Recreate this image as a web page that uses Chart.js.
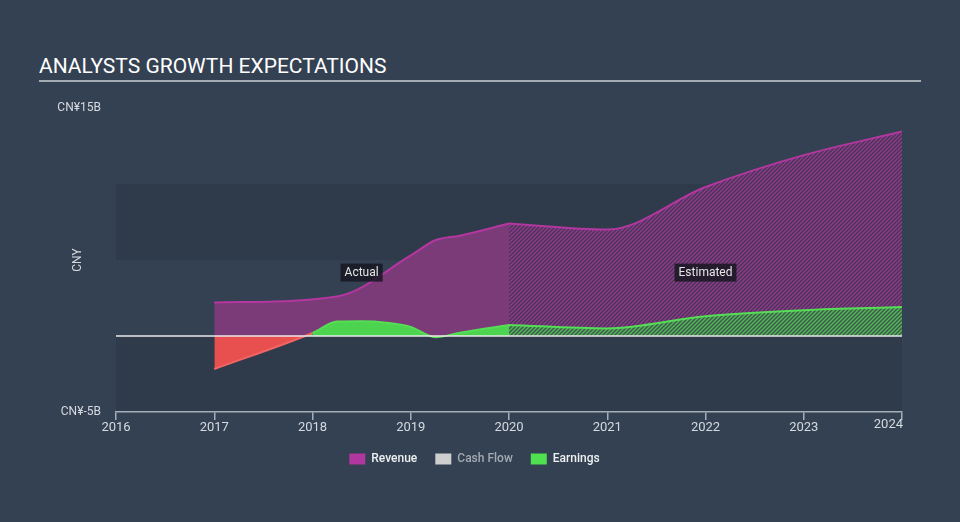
<!DOCTYPE html>
<html>
<head>
<meta charset="utf-8">
<script src="https://cdn.jsdelivr.net/npm/chart.js@4.4.1/dist/chart.umd.min.js"></script>
<style>
  html, body { margin: 0; padding: 0; background: #344152; }
  #wrap { position: relative; width: 960px; height: 522px; }
  #title {
    position: absolute; left: 39px; top: 54px; width: 882px;
    color: #ffffff; font: 21px Roboto, sans-serif;
    padding-bottom: 2px; border-bottom: 2px solid #a3abb3;
  }
  canvas { position: absolute; left: 0; top: 0; }
</style>
</head>
<body>
<div id="wrap">
  <div id="title">ANALYSTS GROWTH EXPECTATIONS</div>
  <canvas id="myChart" width="960" height="522"></canvas>
</div>
<script>
// values in CN¥ billions
const revenueActualYears = [2017.0, 2018.25, 2019.0, 2019.25, 2019.5, 2020.0];
const revenueActual = [2.2, 2.6, 5.3, 6.3, 6.6, 7.4];
const earningsActualYears = [2017.0, 2018.0, 2018.25, 2018.5, 2018.75, 2019.0, 2019.25, 2019.5, 2020.0];
const earningsActual = [-2.17, 0.2, 0.95, 0.97, 0.88, 0.6, -0.08, 0.22, 0.73];
const estimateYears = [2020.0, 2021.0, 2022.0, 2023.0, 2024.0];
const revenueEstimate = [7.4, 7.0, 9.8, 11.9, 13.45];
const earningsEstimate = [0.73, 0.5, 1.3, 1.7, 1.9];
const xTickYears = [2016, 2017, 2018, 2019, 2020, 2021, 2022, 2023, 2024];
const yTickLabels = { '15': 'CN¥15B', '-5': 'CN¥-5B' };
const legendNames = ['Revenue', 'Cash Flow', 'Earnings'];

const pts = (xs, ys) => xs.map((x, i) => ({ x: x, y: ys[i] }));

function hatch(bg, stripe) {
  const c = document.createElement('canvas');
  c.width = 4; c.height = 4;
  const g = c.getContext('2d');
  g.fillStyle = bg;
  g.fillRect(0, 0, 4, 4);
  g.strokeStyle = stripe;
  g.lineWidth = 1.4;
  g.beginPath();
  g.moveTo(0, 4); g.lineTo(4, 0);
  g.moveTo(-1, 1); g.lineTo(1, -1);
  g.moveTo(3, 5); g.lineTo(5, 3);
  g.stroke();
  return g.createPattern(c, 'repeat');
}

const ctx = document.getElementById('myChart').getContext('2d');
const revHatch = hatch('#4a3355', '#8e3d8e');
const earnHatch = hatch('#3b5a4c', '#57b85a');

const bandsPlugin = {
  id: 'bands',
  beforeDraw(chart) {
    const { ctx, chartArea: a, scales: { y } } = chart;
    ctx.save();
    ctx.fillStyle = '#2f3b4a';
    [[10, 5], [0, -5]].forEach(b => {
      const t = y.getPixelForValue(b[0]), btm = y.getPixelForValue(b[1]);
      ctx.fillRect(a.left, t, a.right - a.left, btm - t);
    });
    ctx.restore();
  },
  afterDatasetsDraw(chart) {
    const { ctx, chartArea: a, scales: { x, y } } = chart;
    ctx.save();
    // zero line
    const y0 = y.getPixelForValue(0);
    ctx.strokeStyle = '#e8e8e8';
    ctx.lineWidth = 1.5;
    ctx.beginPath();
    ctx.moveTo(a.left, y0); ctx.lineTo(a.right, y0);
    ctx.stroke();
    // Actual / Estimated tags
    ctx.font = '12px Roboto';
    ctx.textAlign = 'center';
    ctx.textBaseline = 'middle';
    [['Actual', 2018.5], ['Estimated', 2022.0]].forEach(t => {
      const cx = x.getPixelForValue(t[1]), cy = y.getPixelForValue(4.17);
      const w = ctx.measureText(t[0]).width + 8;
      ctx.fillStyle = 'rgba(24,24,34,0.85)';
      ctx.fillRect(cx - w / 2, cy - 9, w, 18);
      ctx.fillStyle = '#e6e6e6';
      ctx.fillText(t[0], cx, cy + 0.5);
    });
    // last x label, kept inside the axis
    ctx.font = '13px Roboto';
    ctx.fillStyle = '#d5dae0';
    ctx.textAlign = 'right';
    ctx.fillText(String(xTickYears[xTickYears.length - 1]), a.right + 1, 425);
    ctx.restore();
  }
};

Chart.defaults.font.family = 'Roboto';

new Chart(ctx, {
  type: 'line',
  data: {
    datasets: [
      {
        label: 'Earnings',
        data: pts(earningsActualYears, earningsActual),
        borderColor: '#55dd55',
        borderWidth: 2,
        segment: {
          borderColor: c => (c.p0.parsed.y + c.p1.parsed.y) / 2 < 0 ? '#f26464' : '#55dd55'
        },
        fill: { target: 'origin', above: '#4cd34f', below: '#e85050' }
      },
      {
        label: 'Earnings estimate',
        data: pts(estimateYears, earningsEstimate),
        borderColor: '#55dd55',
        borderWidth: 2,
        fill: { target: 'origin', above: earnHatch, below: '#e85050' }
      },
      {
        label: 'Revenue',
        data: pts(revenueActualYears, revenueActual),
        borderColor: '#b3379f',
        borderWidth: 2,
        backgroundColor: '#7b3a78',
        fill: 'origin'
      },
      {
        label: 'Revenue estimate',
        data: pts(estimateYears, revenueEstimate),
        borderColor: '#b3379f',
        borderWidth: 2,
        backgroundColor: revHatch,
        fill: 'origin'
      },
      {
        label: 'Cash Flow',
        data: [],
        borderColor: '#cfcfcf'
      }
    ]
  },
  options: {
    responsive: false,
    animation: false,
    devicePixelRatio: 1,
    elements: {
      point: { radius: 0, hoverRadius: 0 },
      line: { cubicInterpolationMode: 'monotone' }
    },
    layout: { padding: { top: 108, right: 58, left: 47, bottom: 47 } },
    plugins: {
      tooltip: { enabled: false },
      legend: {
        position: 'bottom',
        onClick: null,
        labels: {
          boxWidth: 16,
          boxHeight: 11,
          padding: 18,
          font: { size: 12, weight: '500' },
          generateLabels: () => [
            { text: legendNames[0], fillStyle: '#b0379e', strokeStyle: '#b0379e', lineWidth: 0, fontColor: '#eef0f2', hidden: false },
            { text: legendNames[1], fillStyle: '#cfcfcf', strokeStyle: '#cfcfcf', lineWidth: 0, fontColor: '#a3aab3', hidden: false },
            { text: legendNames[2], fillStyle: '#4fe050', strokeStyle: '#4fe050', lineWidth: 0, fontColor: '#eef0f2', hidden: false }
          ]
        }
      }
    },
    scales: {
      x: {
        type: 'linear',
        min: xTickYears[0],
        max: xTickYears[xTickYears.length - 1],
        afterBuildTicks: s => { s.ticks = xTickYears.map(v => ({ value: v })); },
        afterFit: s => { s.height = 23; },
        ticks: {
          autoSkip: false,
          maxRotation: 0,
          padding: 0,
          color: '#d5dae0',
          font: { size: 13 },
          callback: v => v === xTickYears[xTickYears.length - 1] ? '' : String(v)
        },
        grid: { drawOnChartArea: false, color: '#a5afba', tickLength: 8, lineWidth: 1.5 },
        border: { color: '#a5afba', width: 1.5 }
      },
      y: {
        min: -5,
        max: 15,
        afterBuildTicks: s => { s.ticks = [{ value: -5 }, { value: 15 }]; },
        afterFit: s => { s.width = 69; },
        ticks: {
          padding: 15,
          color: '#d5dae0',
          font: { size: 12 },
          callback: v => yTickLabels[String(v)] || ''
        },
        grid: { display: false, drawTicks: false },
        border: { display: false },
        title: { display: true, text: 'CNY', color: '#d5dae0', font: { size: 12 }, padding: { top: 24, bottom: 0 } }
      }
    }
  },
  plugins: [bandsPlugin]
});
</script>
</body>
</html>
